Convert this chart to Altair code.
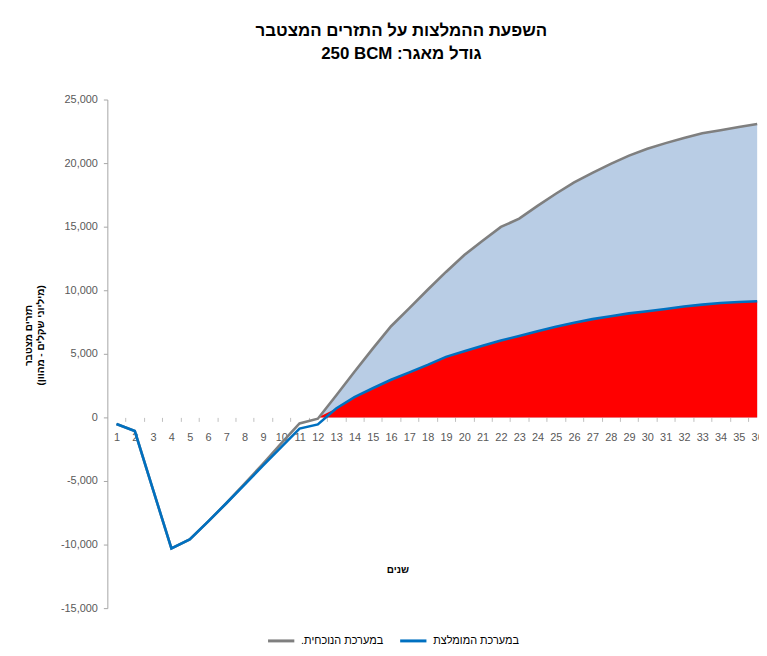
import altair as alt
import pandas as pd

RLE, LRE, PDF = "\u202b", "\u202a", "\u202c"

years = list(range(1, 37))
current = [-520, -1070, -5700, -10300, -9590, -8200, -6750, -5200, -3650, -2050,
           -470, -100, 1720, 3590, 5410, 7170, 8600, 10040, 11440, 12770,
           13890, 14980, 15630, 16640, 17590, 18490, 19230, 19940, 20590, 21130,
           21570, 21980, 22340, 22590, 22840, 23070]
recommended = [-520, -1070, -5700, -10300, -9590, -8200, -6750, -5280, -3800, -2330,
               -880, -550, 700, 1600, 2290, 2960, 3540, 4130, 4760, 5200,
               5630, 6040, 6410, 6770, 7130, 7450, 7730, 7960, 8180, 8350,
               8520, 8720, 8870, 9000, 9070, 9140]
series_names = [RLE + "במערכת הנוכחית." + PDF, RLE + "במערכת המומלצת" + PDF]
series_colors = ["#7f7f7f", "#0070c0"]
y_ticks = [-15000, -10000, -5000, 0, 5000, 10000, 15000, 20000, 25000]
title_lines = ["השפעת ההמלצות על התזרים המצטבר",
               RLE + "גודל מאגר:  " + LRE + "250 BCM" + PDF + PDF]
y_title = ["תזרים מצטבר", "(מיליוני שקלים - מהוון)"]
x_title = "שנים"
area_start = 12

FONT = "Liberation Sans, Arial, DejaVu Sans, sans-serif"

lines_df = pd.DataFrame({
    "year": years * 2,
    "value": current + recommended,
    "series": [series_names[0]] * len(years) + [series_names[1]] * len(years),
    "order": [0] * len(years) + [1] * len(years),
})
area_cur = pd.DataFrame({"year": years, "value": [max(v, 0) for v in current]})
area_cur = area_cur[area_cur.year >= area_start]
area_rec = pd.DataFrame({"year": years, "value": [max(v, 0) for v in recommended]})
area_rec = area_rec[area_rec.year >= area_start]

xscale = alt.Scale(domain=[0.5, 36.1], nice=False, zero=False)
yscale = alt.Scale(domain=[-15000, 25000], nice=False)

x_axis = alt.Axis(values=years, labelAngle=0, tickOffset=9.2, labelOffset=-9.2,
                  offset=-192, domain=False, grid=False, tickColor="#bfbfbf",
                  tickSize=4, labelPadding=10, labelFontSize=11, labelColor="#595959",
                  labelFont=FONT, labelFlush=False, labelOverlap=False, format="d",
                  title=x_title, titleFont=FONT, titleFontSize=10, titleFontWeight="bold",
                  titleX=292, titleY=153, titleBaseline="middle", titleAlign="center",
                  titleColor="#000000")
y_axis = alt.Axis(values=y_ticks, format=",.0f", grid=False, domainColor="#a6a6a6",
                  tickColor="#a6a6a6", tickSize=4, labelPadding=6, labelFontSize=11,
                  labelColor="#595959", labelFont=FONT, labelOverlap=False,
                  labelExpr="replace(datum.label, '\u2212', '-')",
                  title=y_title, titleFont=FONT, titleFontSize=10, titleFontWeight="bold",
                  titleAngle=270, titleX=-74, titleY=237, titleAlign="center",
                  titleBaseline="bottom", titleLineHeight=12, titleColor="#000000")

X = alt.X("year:Q", scale=xscale, axis=x_axis)
Y = alt.Y("value:Q", scale=yscale, axis=y_axis)

a1 = alt.Chart(area_cur).mark_area(color="#b9cde5", opacity=1).encode(x=X, y=Y)
a2 = alt.Chart(area_rec).mark_area(color="#ff0000", opacity=1).encode(x=X, y=Y)
ln = alt.Chart(lines_df).mark_line(strokeWidth=2.6).encode(
    x=X, y=Y,
    color=alt.Color("series:N", sort=series_names,
                    scale=alt.Scale(domain=series_names, range=series_colors),
                    legend=alt.Legend(title=None, orient="none", legendX=160, legendY=530,
                                      direction="horizontal", symbolType="stroke",
                                      symbolSize=700, symbolStrokeWidth=3,
                                      labelFont=FONT, labelFontSize=11, labelColor="#000000",
                                      labelLimit=300, columnPadding=10, labelOffset=5)),
    detail="order:O",
)

chart = alt.layer(a1, a2, ln).properties(
    width=656, height=512,
    autosize=alt.AutoSizeParams(type="none"),
    padding={"left": 100, "top": 90, "right": 0, "bottom": 38},
    title=alt.TitleParams(text=title_lines, font=FONT, fontSize=17, fontWeight="bold",
                          color="#000000", anchor="middle", frame="group", dx=-32,
                          offset=31, lineHeight=23),
).configure_view(stroke=None)

chart.save("out.html", embed_options={"renderer": "svg", "actions": False})
